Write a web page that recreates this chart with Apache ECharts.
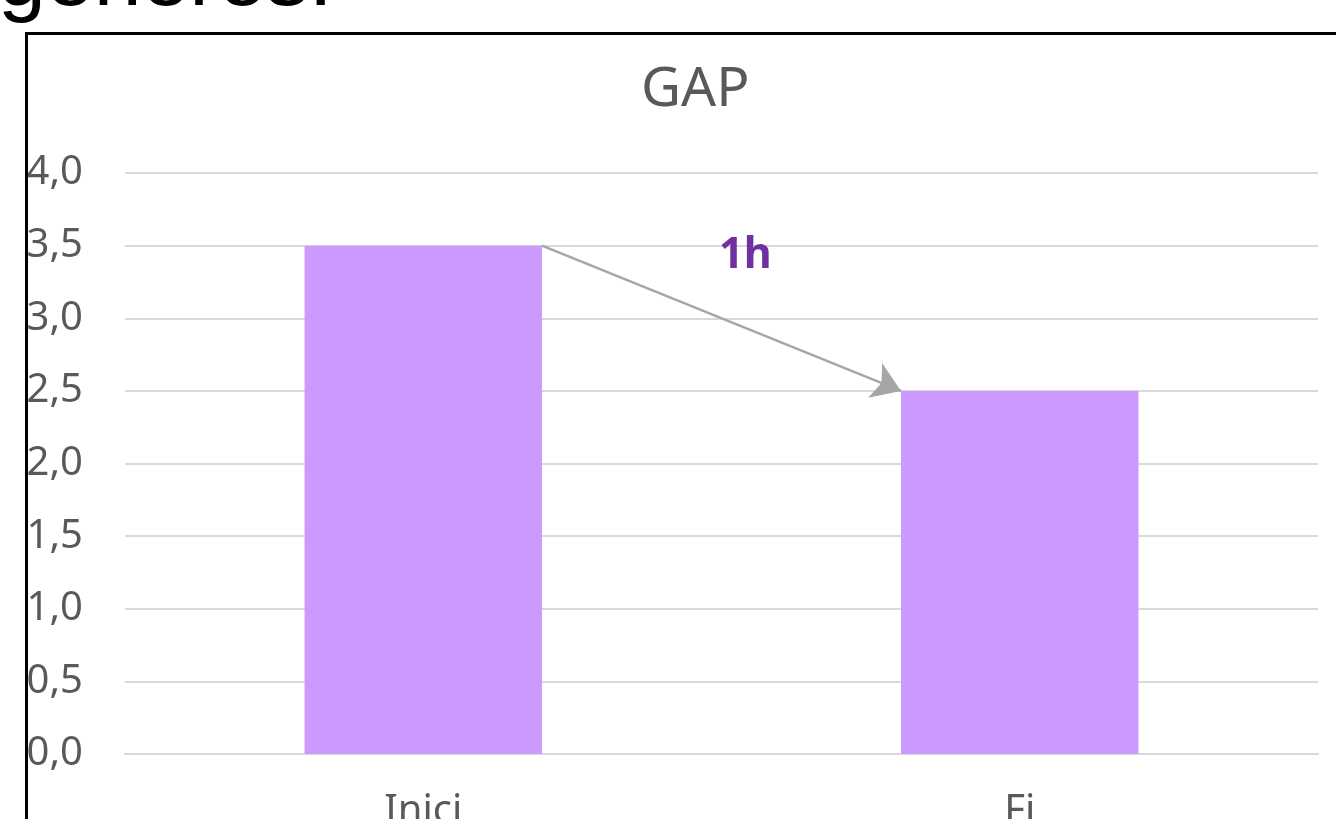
<!DOCTYPE html>
<html>
<head>
<meta charset="utf-8">
<title>GAP</title>
<script src="https://cdn.jsdelivr.net/npm/echarts@6/dist/echarts.min.js"></script>
<style>
  html, body { margin: 0; padding: 0; background: #fff; }
  #chart { width: 1336px; height: 819px; }
</style>
</head>
<body>
<div id="chart"></div>
<script>
// data
const categories = ['Inici', 'Fi'];
const gapValues = [3.5, 2.5];
const yTicks = [0, 0.5, 1, 1.5, 2, 2.5, 3, 3.5, 4];
const arrowLabel = '1h';

const barFrac = 0.398; // bar width as share of the category band

const chart = echarts.init(document.getElementById('chart'));

// arrow runs from the right edge of the first bar to the left edge of the second
const half = barFrac / 2;
const arrowStart = [0.5 + half, gapValues[0]];
const arrowEnd = [1.5 - half, gapValues[1]];

const option = {
  animation: false,
  backgroundColor: '#ffffff',
  textStyle: { fontFamily: 'Noto Sans' },
  title: {
    text: 'GAP',
    left: 636,
    top: 58,
    textStyle: { color: '#595959', fontSize: 55, fontWeight: 'normal', fontFamily: 'Noto Sans' }
  },
  grid: { left: 125, right: 18, top: 173, bottom: 65, outerBoundsMode: 'none' },
  xAxis: [
    {
      type: 'category',
      data: categories,
      axisLine: { show: true, lineStyle: { color: '#D9D9D9', width: 2 } },
      axisTick: { show: false },
      axisLabel: { color: '#595959', fontSize: 40, margin: 38 }
    },
    {
      type: 'value',
      min: 0,
      max: 2,
      show: false
    }
  ],
  yAxis: {
    type: 'value',
    min: yTicks[0],
    max: yTicks[yTicks.length - 1],
    interval: 0.5,
    axisLine: { show: false },
    axisTick: { show: false },
    splitLine: { lineStyle: { color: '#D9D9D9', width: 2 } },
    axisLabel: {
      color: '#595959',
      fontSize: 40,
      margin: 42,
      formatter: v => v.toFixed(1).replace('.', ',')
    }
  },
  series: [
    {
      type: 'bar',
      data: gapValues,
      barWidth: (barFrac * 100) + '%',
      itemStyle: { color: '#CC99FF' }
    },
    {
      type: 'scatter',
      xAxisIndex: 1,
      data: [[1.04, 3.43]],
      symbolSize: 0,
      itemStyle: { opacity: 1 },
      label: {
        show: true,
        position: 'inside',
        formatter: arrowLabel,
        color: '#7030A0',
        fontSize: 43,
        fontWeight: 'bold'
      },
      markLine: {
        silent: true,
        symbol: ['none', 'arrow'],
        symbolSize: 28,
        label: { show: false },
        lineStyle: { color: '#A6A6A6', width: 2.5, type: 'solid', opacity: 1 },
        data: [[{ coord: arrowStart }, { coord: arrowEnd }]]
      }
    }
  ],
  graphic: [
    {
      type: 'rect',
      left: 24,
      top: 31,
      shape: { width: 1400, height: 900 },
      style: { fill: 'none', stroke: '#000', lineWidth: 3 },
      z: 10
    },
    {
      type: 'text',
      left: -2,
      top: -62,
      style: { text: 'generes.', fill: '#000', font: '86px "Liberation Sans"' }
    }
  ]
};

chart.setOption(option);
</script>
</body>
</html>
